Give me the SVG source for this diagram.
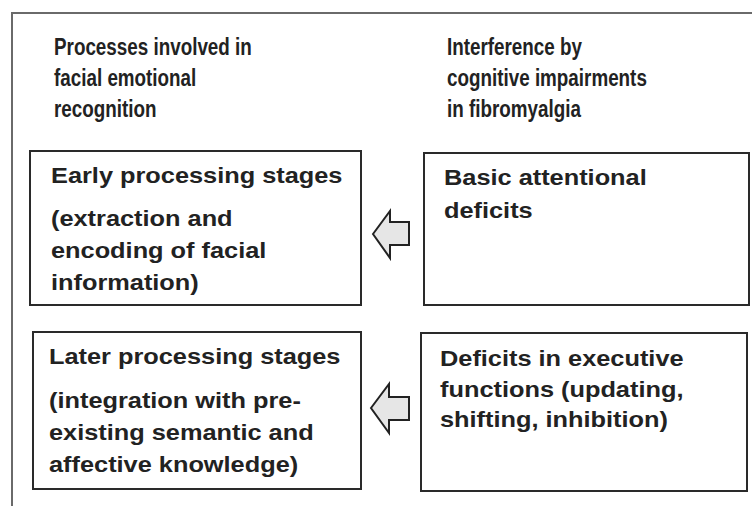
<svg xmlns="http://www.w3.org/2000/svg" width="752" height="506" viewBox="0 0 752 506">
<style>
.frame{fill:none;stroke:#6a6a6a;stroke-width:2}
.box{fill:#fff;stroke:#2a2a2a;stroke-width:2}
.arrow{fill:#e6e6e6;stroke:#222;stroke-width:2;stroke-linejoin:miter}
.hd{font-family:"Liberation Sans",Arial,sans-serif;font-weight:bold;font-size:24px;fill:#222}
.tx{font-family:"Liberation Sans",Arial,sans-serif;font-weight:bold;font-size:22px;fill:#222}
</style>
<rect width="752" height="506" fill="#fff"/>
<rect class="frame" x="12" y="13" width="800" height="600"/>
<g id="header-left">
<text class="hd" transform="translate(54,0) scale(0.785,1)"><tspan x="0" y="55">Processes involved in</tspan><tspan x="0" y="86">facial emotional</tspan><tspan x="0" y="117">recognition</tspan></text>
</g>
<g id="header-right">
<text class="hd" transform="translate(447,0) scale(0.785,1)"><tspan x="0" y="55">Interference by</tspan><tspan x="0" y="86">cognitive impairments</tspan><tspan x="0" y="117">in fibromyalgia</tspan></text>
</g>
<g id="early">
<rect class="box" x="30" y="151" width="331" height="154"/>
<text class="tx" transform="translate(51,0) scale(1.152,1)"><tspan x="0" y="183">Early processing stages</tspan><tspan x="0" y="226">(extraction and</tspan><tspan x="0" y="258">encoding of facial</tspan><tspan x="0" y="290">information)</tspan></text>
</g>
<g id="basic">
<rect class="box" x="424" y="153" width="325" height="152"/>
<text class="tx" transform="translate(444,0) scale(1.152,1)"><tspan x="0" y="185">Basic attentional</tspan><tspan x="0" y="218">deficits</tspan></text>
</g>
<g id="later">
<rect class="box" x="33" y="332" width="328" height="157"/>
<text class="tx" transform="translate(49,0) scale(1.152,1)"><tspan x="0" y="364">Later processing stages</tspan><tspan x="0" y="408">(integration with pre-</tspan><tspan x="0" y="440">existing semantic and</tspan><tspan x="0" y="472">affective knowledge)</tspan></text>
</g>
<g id="executive">
<rect class="box" x="421" y="333" width="326" height="158"/>
<text class="tx" transform="translate(440,0) scale(1.152,1)"><tspan x="0" y="366">Deficits in executive</tspan><tspan x="0" y="397">functions (updating,</tspan><tspan x="0" y="427">shifting, inhibition)</tspan></text>
</g>
<g id="connectors">
<polygon class="arrow" points="373,234 390,211 390,222 409,222 409,245 390,245 390,258"/>
<polygon class="arrow" points="371,408 389,384 389,397 409,397 409,420 389,420 389,433"/>
</g>
</svg>
